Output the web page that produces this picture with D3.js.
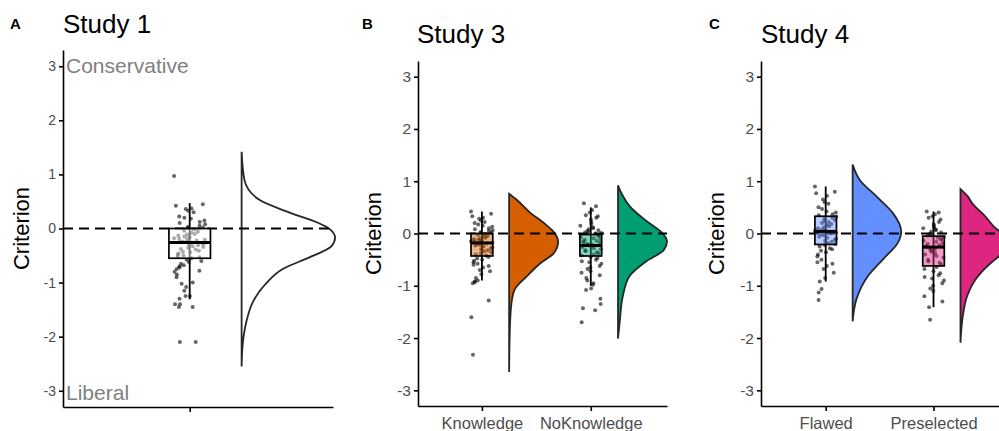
<meta charset="utf-8">
<style>
  body { margin: 0; background: #fff; }
  svg text { font-family: "Liberation Sans", Arial, sans-serif; }
  .axis path, .axis line { stroke: #000; stroke-width: 1.6px; }
  .axis text { fill: #4d4d4d; }
  .zero { stroke: #000; stroke-width: 2px; stroke-dasharray: 10 6; }
  .dens { stroke: #262626; stroke-width: 1.8px; }
  .box { stroke: #000; stroke-width: 1.7px; }
  .pt { fill: #000; opacity: 0.6; }
</style>
<script src="https://cdn.jsdelivr.net/npm/d3@7"></script>
<svg id="chart" width="999" height="431"></svg>
<script>
// ---- data ----
var yTicks = [-3, -2, -1, 0, 1, 2, 3];

var study1Groups = [""];
var study3Groups = ["Knowledge", "NoKnowledge"];
var study4Groups = ["Flawed", "Preselected"];

// box stats: [whiskerLow, q1, median, q3, whiskerHigh]
var study1Box = [[-1.31, -0.55, -0.26, 0.0, 0.47]];
var study3Box = [[-0.9, -0.43, -0.18, 0.0, 0.42], [-1.0, -0.43, -0.23, -0.02, 0.5]];
var study4Box = [[-0.92, -0.21, 0.04, 0.33, 0.9], [-1.41, -0.62, -0.26, -0.05, 0.42]];

// individual criterion scores
var study1Points = [
  0.97, 0.45, 0.42, 0.37, 0.36, 0.33, 0.30, 0.22, 0.20, 0.18, 0.15, 0.12, 0.10, 0.08, 0.05, 0.03, 0.02, 0.01,
  -0.02, -0.04, -0.06, -0.08, -0.10, -0.11, -0.13, -0.15, -0.16, -0.18, -0.19, -0.20, -0.21, -0.22, -0.24, -0.25,
  -0.25, -0.26, -0.27, -0.28, -0.30, -0.31, -0.33, -0.34, -0.36, -0.38, -0.39, -0.41, -0.43, -0.44, -0.46, -0.48,
  -0.50, -0.52, -0.53, -0.55, -0.58, -0.60, -0.62, -0.65, -0.68, -0.70, -0.72, -0.75, -0.78, -0.80, -0.85, -0.90,
  -1.00, -1.02, -1.08, -1.15, -1.25, -1.25, -1.30, -1.40, -1.40, -1.45, -1.45, -2.10, -2.10
];
var knowledgePoints = [
  0.42, 0.38, 0.33, 0.30, 0.28, 0.25, 0.22, 0.20, 0.17, 0.15, 0.13, 0.10, 0.08, 0.06, 0.05, 0.03, 0.02, 0.01,
  -0.01, -0.03, -0.05, -0.06, -0.08, -0.10, -0.11, -0.12, -0.14, -0.15, -0.16, -0.17, -0.18, -0.19, -0.20, -0.22,
  -0.23, -0.25, -0.27, -0.28, -0.30, -0.32, -0.34, -0.36, -0.38, -0.40, -0.42, -0.45, -0.48, -0.50, -0.52, -0.55,
  -0.58, -0.60, -0.62, -0.65, -0.70, -0.72, -0.78, -0.85, -0.90, -0.92, -0.93, -0.95, -1.28, -1.60, -2.32
];
var noKnowledgePoints = [
  0.58, 0.52, 0.45, 0.40, 0.35, 0.33, 0.30, 0.27, 0.22, 0.18, 0.15, 0.12, 0.10, 0.08, 0.06, 0.05, 0.03, 0.02,
  0.01, 0.00, -0.03, -0.05, -0.07, -0.09, -0.10, -0.12, -0.14, -0.15, -0.17, -0.18, -0.20, -0.21, -0.22, -0.23,
  -0.24, -0.26, -0.28, -0.30, -0.32, -0.34, -0.36, -0.38, -0.40, -0.42, -0.45, -0.47, -0.50, -0.53, -0.55, -0.58,
  -0.62, -0.65, -0.68, -0.72, -0.75, -0.80, -0.85, -0.90, -0.95, -0.98, -1.05, -1.08, -1.25, -1.35, -1.43, -1.47, -1.70
];
var flawedPoints = [
  0.90, 0.80, 0.77, 0.72, 0.65, 0.60, 0.57, 0.50, 0.47, 0.42, 0.40, 0.37, 0.35, 0.32, 0.30, 0.28, 0.26, 0.24,
  0.22, 0.20, 0.18, 0.16, 0.14, 0.12, 0.10, 0.08, 0.06, 0.05, 0.04, 0.03, 0.02, 0.00, -0.02, -0.04, -0.06, -0.08,
  -0.10, -0.12, -0.14, -0.16, -0.18, -0.20, -0.22, -0.25, -0.28, -0.30, -0.33, -0.36, -0.40, -0.44, -0.50, -0.55,
  -0.58, -0.62, -0.68, -0.75, -0.85, -0.92, -1.06, -1.13, -1.27
];
var preselectedPoints = [
  0.42, 0.40, 0.37, 0.33, 0.30, 0.27, 0.22, 0.18, 0.15, 0.12, 0.10, 0.08, 0.06, 0.04, 0.02, 0.00, -0.02, -0.04,
  -0.06, -0.08, -0.10, -0.12, -0.14, -0.16, -0.18, -0.20, -0.22, -0.24, -0.25, -0.26, -0.28, -0.30, -0.32, -0.35,
  -0.38, -0.40, -0.43, -0.46, -0.50, -0.53, -0.56, -0.60, -0.64, -0.68, -0.72, -0.76, -0.80, -0.83, -0.86, -0.90,
  -0.95, -1.00, -1.05, -1.10, -1.20, -1.30, -1.41, -1.65
];

// half-violin profiles: [criterion, density relative to the widest point]
var study1Density = [[1.42, 0], [0.9, 0.03], [0.53, 0.19], [0.29, 0.52], [0.11, 0.81], [-0.02, 0.95], [-0.17, 1.0],
  [-0.33, 0.96], [-0.53, 0.73], [-0.75, 0.44], [-1.0, 0.27], [-1.36, 0.12], [-1.73, 0.05], [-2.17, 0.01], [-2.55, 0]];
var knowledgeDensity = [[0.76, 0], [0.64, 0.16], [0.39, 0.44], [0.2, 0.71], [0.04, 0.9], [-0.16, 1.0], [-0.37, 0.92],
  [-0.56, 0.65], [-0.81, 0.37], [-1.06, 0.12], [-1.25, 0.06], [-1.69, 0.02], [-2.65, 0]];
var noKnowledgeDensity = [[0.92, 0], [0.75, 0.08], [0.52, 0.24], [0.24, 0.58], [0.04, 0.87], [-0.15, 1.0], [-0.31, 0.94],
  [-0.53, 0.58], [-0.81, 0.24], [-1.19, 0.1], [-1.69, 0.035], [-2.01, 0]];
var flawedDensity = [[1.32, 0], [1.02, 0.15], [0.71, 0.49], [0.39, 0.83], [0.04, 1.0], [-0.18, 0.93], [-0.49, 0.63],
  [-0.81, 0.32], [-1.25, 0.08], [-1.68, 0]];
var preselectedDensity = [[0.85, 0], [0.71, 0.15], [0.58, 0.24], [0.33, 0.51], [0.14, 0.68], [0.0, 0.85], [-0.25, 1.0],
  [-0.43, 0.8], [-0.56, 0.63], [-0.88, 0.31], [-1.19, 0.14], [-1.57, 0.05], [-2.09, 0]];

var study3Colors = ["#d55e00", "#009e73"];
var study4Colors = ["#648fff", "#dc267f"];

// ---- panels ----
var panels = [
  { letter: "A", title: "Study 1", groups: study1Groups, box: study1Box,
    points: [study1Points], dens: [study1Density], colors: ["#ffffff"], densFill: ["none"],
    left: 63, right: 333, top: 50, bottom: 407, xDomain: [0.39, 1.69], jitter: 0.075,
    letterX: 10, titleX: 63, titleY: 33, ylabX: 29, tickFont: 14, notes: true },
  { letter: "B", title: "Study 3", groups: study3Groups, box: study3Box,
    points: [knowledgePoints, noKnowledgePoints], dens: [knowledgeDensity, noKnowledgeDensity],
    colors: study3Colors, densFill: study3Colors,
    left: 418, right: 667, top: 61, bottom: 406, xDomain: [0.413, 2.70], jitter: 0.1,
    letterX: 362, titleX: 417, titleY: 43, ylabX: 381, tickFont: 15.5 },
  { letter: "C", title: "Study 4", groups: study4Groups, box: study4Box,
    points: [flawedPoints, preselectedPoints], dens: [flawedDensity, preselectedDensity],
    colors: study4Colors, densFill: study4Colors,
    left: 761, right: 1009, top: 61, bottom: 406, xDomain: [0.4, 2.70], jitter: 0.1,
    letterX: 709, titleX: 761, titleY: 43, ylabX: 724, tickFont: 15.5 }
];

var svg = d3.select("#chart");
var boxW = 0.2, densOff = 0.25, densMax = 0.45;

// spread points sideways (fixed, repeatable offsets in -0.5..0.5)
function spread(j, i) {
  var s = Math.sin(j * 12.9898 + i * 78.233) * 43758.5453;
  return s - Math.floor(s) - 0.5;
}

panels.forEach(function(p) {
  var g = svg.append("g");
  var x = d3.scaleLinear().domain(p.xDomain).range([p.left, p.right]);
  var y = d3.scaleLinear().domain([-3.3, 3.3]).range([p.bottom, p.top]);

  // letter + title
  g.append("text").attr("x", p.letterX).attr("y", 29)
    .style("font-size", "15px").style("font-weight", "bold").text(p.letter);
  g.append("text").attr("x", p.titleX).attr("y", p.titleY)
    .style("font-size", "26px").text(p.title);

  // half violins
  p.dens.forEach(function(d, i) {
    var base = i + 1 + densOff;
    var area = d3.area()
      .y(function(v) { return y(v[0]); })
      .x0(x(base))
      .x1(function(v) { return x(base + v[1] * densMax); })
      .curve(d3.curveMonotoneY);
    g.append("path").datum(d).attr("class", "dens")
      .attr("fill", p.densFill[i]).attr("d", area);
  });

  // zero reference
  g.append("line").attr("class", "zero")
    .attr("x1", p.left).attr("x2", p.right)
    .attr("y1", y(0)).attr("y2", y(0));

  // jittered points
  p.points.forEach(function(vals, i) {
    g.selectAll(null).data(vals).enter().append("circle")
      .attr("class", "pt").attr("r", 2)
      .attr("cx", function(v, j) { return x(i + 1 + spread(j, i) * 2 * p.jitter); })
      .attr("cy", function(v) { return y(v); });
  });

  // boxplots
  p.box.forEach(function(b, i) {
    var c = i + 1;
    g.append("line").attr("stroke", "#000").attr("stroke-width", 1.8)
      .attr("x1", x(c)).attr("x2", x(c)).attr("y1", y(b[0])).attr("y2", y(b[4]));
    g.append("rect").attr("class", "box")
      .attr("x", x(c - boxW / 2)).attr("width", x(c + boxW / 2) - x(c - boxW / 2))
      .attr("y", y(b[3])).attr("height", y(b[1]) - y(b[3]))
      .attr("fill", p.colors[i]).attr("fill-opacity", 0.45);
    g.append("line").attr("stroke", "#000").attr("stroke-width", 3)
      .attr("x1", x(c - boxW / 2)).attr("x2", x(c + boxW / 2))
      .attr("y1", y(b[2])).attr("y2", y(b[2]));
  });

  // axes
  var yAxis = g.append("g").attr("class", "axis")
    .attr("transform", "translate(" + p.left + ",0)")
    .call(d3.axisLeft(y).tickValues(yTicks).tickFormat(function(d) { return String(d); })
      .tickSize(4).tickPadding(3).tickSizeOuter(0));
  yAxis.selectAll("text").style("font-size", p.tickFont + "px");

  var xAxis = g.append("g").attr("class", "axis")
    .attr("transform", "translate(0," + p.bottom + ")")
    .call(d3.axisBottom(x).tickValues(p.groups.map(function(s, i) { return i + 1; }))
      .tickFormat(function(d) { return p.groups[d - 1]; })
      .tickSize(5).tickPadding(6).tickSizeOuter(0));
  xAxis.selectAll("text").style("font-size", "16.5px");

  g.append("text")
    .attr("transform", "translate(" + p.ylabX + "," + y(0) + ") rotate(-90)")
    .attr("text-anchor", "middle").style("font-size", "22px").text("Criterion");

  if (p.notes) {
    g.append("text").attr("x", p.left + 3).attr("y", y(3) + 7)
      .attr("fill", "#808080").style("font-size", "21px").text("Conservative");
    g.append("text").attr("x", p.left + 3).attr("y", y(-3) + 9)
      .attr("fill", "#808080").style("font-size", "21px").text("Liberal");
  }
});
</script>
